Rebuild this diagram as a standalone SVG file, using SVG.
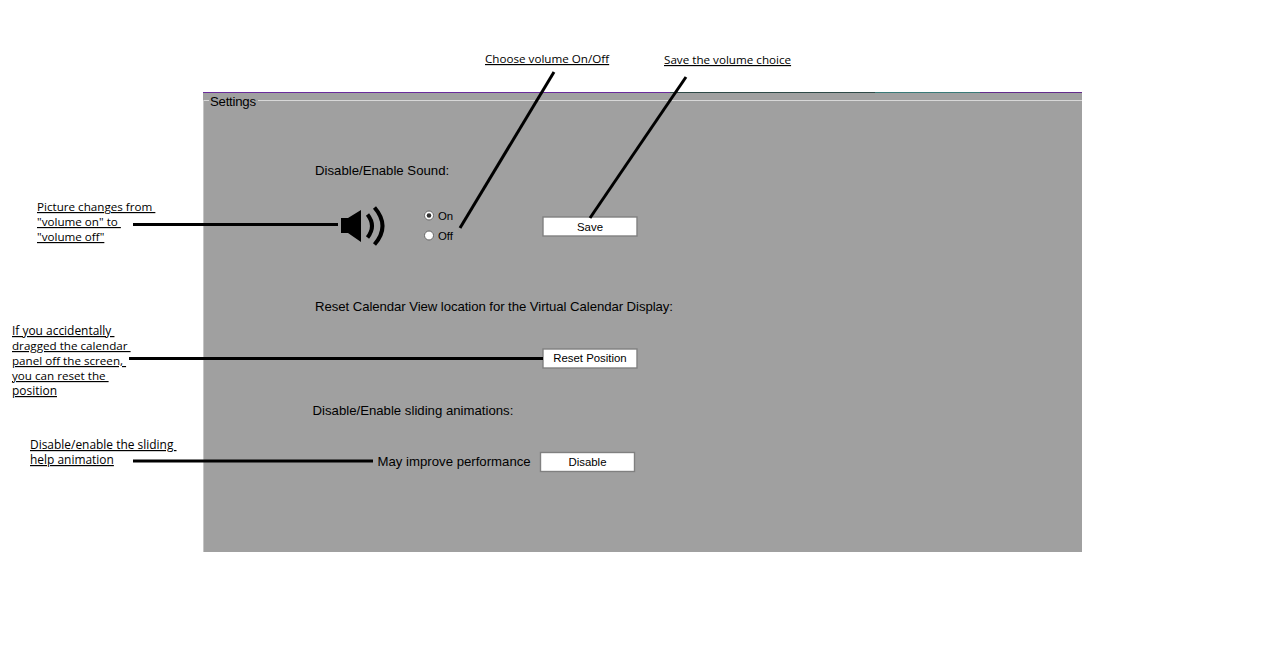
<svg xmlns="http://www.w3.org/2000/svg" width="1281" height="658" viewBox="0 0 1281 658">
<style>
.a{font-family:"Open Sans","Noto Sans",sans-serif;font-size:11.65px;fill:#000;text-decoration:underline;white-space:pre}
.l{font-size:11.95px}
.s{font-family:"Liberation Sans",Arial,sans-serif;font-size:13.2px;fill:#000}
.o{font-family:"Liberation Sans",Arial,sans-serif;font-size:11.4px;fill:#000}
.b{fill:#fff;stroke:#808080;stroke-width:1.4}
.c{stroke:#000;stroke-width:3;fill:none}
</style>
<rect width="1281" height="658" fill="#fff"/>
<g id="panel">
<rect x="203" y="92" width="879" height="460" fill="#a0a0a0"/>
<rect x="203" y="92" width="672" height="1" fill="#6a2c9c"/>
<rect x="670" y="92" width="205" height="1" fill="#2f4a48"/>
<rect x="875" y="92" width="105" height="1" fill="#3a7a78"/>
<rect x="980" y="92" width="102" height="1" fill="#642c8c"/>
<rect x="258" y="100" width="824" height="1" fill="#d8d8d8"/>
<rect x="204" y="100" width="5" height="1" fill="#d8d8d8"/>
<rect x="203" y="100" width="1" height="452" fill="#c4c4c4"/>
<text class="s" x="210" y="106" textLength="46">Settings</text>
</g>
<g id="sound-section">
<text class="s" x="315" y="175">Disable/Enable Sound:</text>
</g>
<g id="speaker-icon">
<path d="M341 218h7l13-8v32l-13-9h-7z" fill="#000"/>
<path d="M367.500 214.500q9 11.500 0 23" fill="none" stroke="#000" stroke-width="4"/>
<path d="M374.500 207.500q16 18.500 0 37" fill="none" stroke="#000" stroke-width="4"/>
</g>
<g id="radio-on">
<circle cx="429" cy="215.500" r="4.500" fill="#fff" stroke="#666"/>
<circle cx="429" cy="215.500" r="2.300" fill="#333"/>
<text class="o" x="438" y="220">On</text>
</g>
<g id="radio-off">
<circle cx="429" cy="235.500" r="4.500" fill="#fff" stroke="#666"/>
<text class="o" x="438" y="240">Off</text>
</g>
<g id="save-button">
<rect class="b" x="543" y="217" width="94" height="19"/>
<text class="o" x="590" y="231" text-anchor="middle">Save</text>
</g>
<g id="reset-section">
<text class="s" x="315" y="311" textLength="358">Reset Calendar View location for the Virtual Calendar Display:</text>
</g>
<g id="reset-button">
<rect class="b" x="543" y="349" width="94" height="19"/>
<text class="o" x="590" y="362" text-anchor="middle">Reset Position</text>
</g>
<g id="animation-section">
<text class="s" x="312.500" y="415">Disable/Enable sliding animations:</text>
</g>
<g id="performance-label">
<text class="s" x="377.500" y="466">May improve performance</text>
</g>
<g id="disable-button">
<rect class="b" x="540.500" y="452.500" width="94" height="19"/>
<text class="o" x="587.500" y="466" text-anchor="middle" font-size="11">Disable</text>
</g>
<g id="connectors">
<line class="c" x1="133" y1="224.500" x2="338" y2="224.500"/>
<line class="c" x1="129" y1="358.500" x2="543" y2="358.500"/>
<line class="c" x1="133" y1="461" x2="373" y2="461"/>
<line class="c" x1="554" y1="72" x2="460" y2="228"/>
<line class="c" x1="686" y1="77" x2="590" y2="218"/>
</g>
<g id="note-volume-choice"><text class="a" x="485" y="63">Choose volume On/Off</text></g>
<g id="note-save"><text class="a" x="664" y="64">Save the volume choice</text></g>
<g id="note-picture">
<text class="a" x="37" y="211">Picture changes from </text>
<text class="a" x="37" y="226">"volume on" to </text>
<text class="a" x="37" y="241">"volume off"</text>
</g>
<g id="note-reset">
<text class="a l" x="12" y="335">If you accidentally </text>
<text class="a" x="12" y="350">dragged the calendar </text>
<text class="a" x="12" y="365">panel off the screen, </text>
<text class="a" x="12" y="380">you can reset the </text>
<text class="a l" x="12" y="395">position</text>
</g>
<g id="note-animation">
<text class="a l" x="30" y="449">Disable/enable the sliding </text>
<text class="a l" x="30" y="464">help animation</text>
</g>
</svg>
